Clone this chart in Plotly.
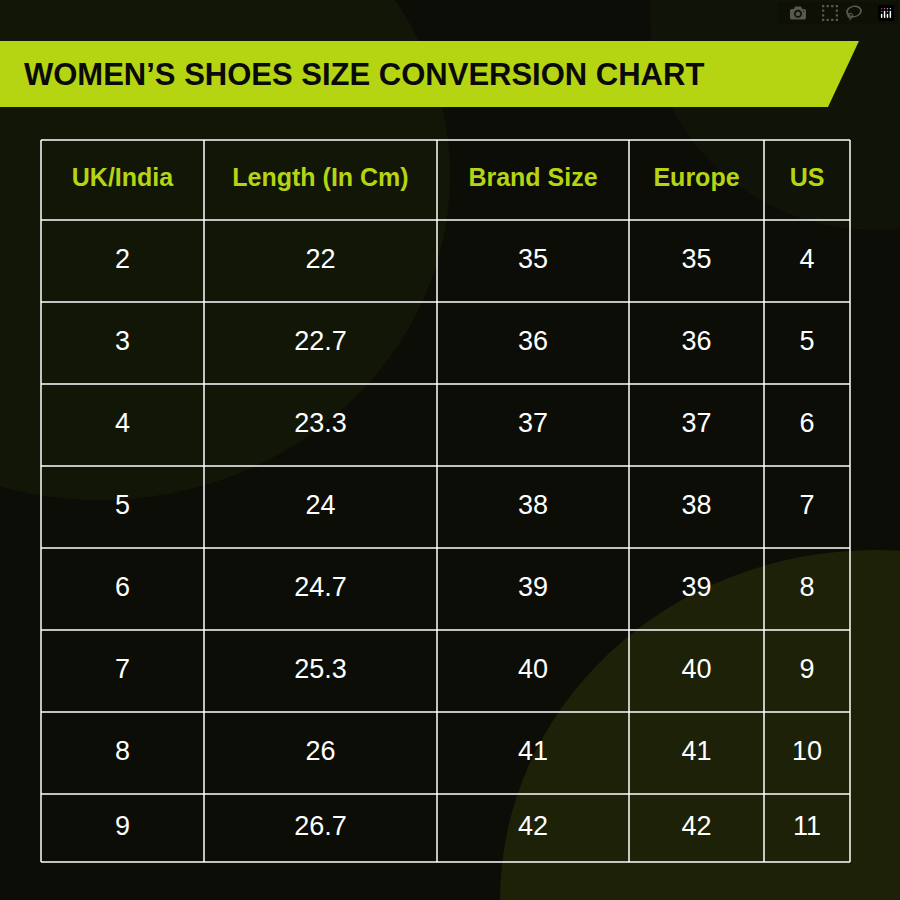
import plotly.graph_objects as go

title = "WOMEN’S SHOES SIZE CONVERSION CHART"
headers = ["UK/India", "Length (In Cm)", "Brand Size", "Europe", "US"]
uk_india = ["2", "3", "4", "5", "6", "7", "8", "9"]
length_cm = ["22", "22.7", "23.3", "24", "24.7", "25.3", "26", "26.7"]
brand_size = ["35", "36", "37", "38", "39", "40", "41", "42"]
europe = ["35", "36", "37", "38", "39", "40", "41", "42"]
us = ["4", "5", "6", "7", "8", "9", "10", "11"]

# grid geometry (pixel units of the 900x900 canvas)
col_widths = [163, 233, 192, 135, 86]
row_heights = [80, 82, 82, 82, 82, 82, 82, 82, 68]
x_start, y_start = 41, 140

x_edges = [x_start]
for w in col_widths:
    x_edges.append(x_edges[-1] + w)
y_edges = [y_start]
for h in row_heights:
    y_edges.append(y_edges[-1] + h)
x_mid = [(a + b) / 2 for a, b in zip(x_edges[:-1], x_edges[1:])]
y_mid = [(a + b) / 2 for a, b in zip(y_edges[:-1], y_edges[1:])]

columns = [uk_india, length_cm, brand_size, europe, us]

fig = go.Figure()

# header text
fig.add_trace(go.Scatter(
    x=x_mid, y=[y_mid[0]] * len(headers), mode="text",
    text=[f"<b>{h}</b>" for h in headers],
    textfont=dict(family="Liberation Sans, Arial", size=25, color="#b5d412"),
    hoverinfo="skip"))

# body text
xs, ys, ts = [], [], []
for ci, col in enumerate(columns):
    for ri, v in enumerate(col):
        xs.append(x_mid[ci]); ys.append(y_mid[ri + 1]); ts.append(v)
fig.add_trace(go.Scatter(
    x=xs, y=ys, mode="text", text=ts,
    textfont=dict(family="Liberation Sans, Arial", size=27, color="white"),
    hoverinfo="skip"))

shapes = [
    dict(type="circle", xref="x", yref="y", x0=-250, x1=450, y0=-150, y1=500,
         fillcolor="rgba(90,110,20,0.10)", line_width=0, layer="below"),
    dict(type="circle", xref="x", yref="y", x0=500, x1=1250, y0=550, y1=1250,
         fillcolor="rgba(120,140,15,0.16)", line_width=0, layer="below"),
    dict(type="circle", xref="x", yref="y", x0=650, x1=1100, y0=-200, y1=230,
         fillcolor="rgba(80,100,20,0.08)", line_width=0, layer="below"),
    dict(type="path", xref="x", yref="y",
         path="M 0 41 L 859 41 L 828 107 L 0 107 Z",
         fillcolor="#b5d412", line_width=0),
]
for xe in x_edges:
    shapes.append(dict(type="line", xref="x", yref="y", x0=xe, x1=xe,
                       y0=y_edges[0], y1=y_edges[-1], line=dict(color="white", width=1.5)))
for ye in y_edges:
    shapes.append(dict(type="line", xref="x", yref="y", x0=x_edges[0], x1=x_edges[-1],
                       y0=ye, y1=ye, line=dict(color="white", width=1.5)))

fig.update_layout(
    width=900, height=900, margin=dict(l=0, r=0, t=0, b=0),
    paper_bgcolor="#0b0d06", plot_bgcolor="#0b0d06",
    showlegend=False, shapes=shapes,
    xaxis=dict(range=[0, 900], visible=False, fixedrange=True),
    yaxis=dict(range=[900, 0], visible=False, fixedrange=True),
    annotations=[dict(text=f"<b>{title}</b>", xref="x", yref="y",
                      x=22, y=74, xanchor="left", yanchor="middle", showarrow=False,
                      font=dict(family="Liberation Sans, Arial", size=31, color="#0a0a0a"))],
)

fig.write_html("out.html")

# remove default body margin so the figure fills the window
with open("out.html", encoding="utf-8") as f:
    html = f.read()
html = html.replace("<head>", "<head><style>body{margin:0;background:#0b0d06;}</style>", 1)
with open("out.html", "w", encoding="utf-8") as f:
    f.write(html)
